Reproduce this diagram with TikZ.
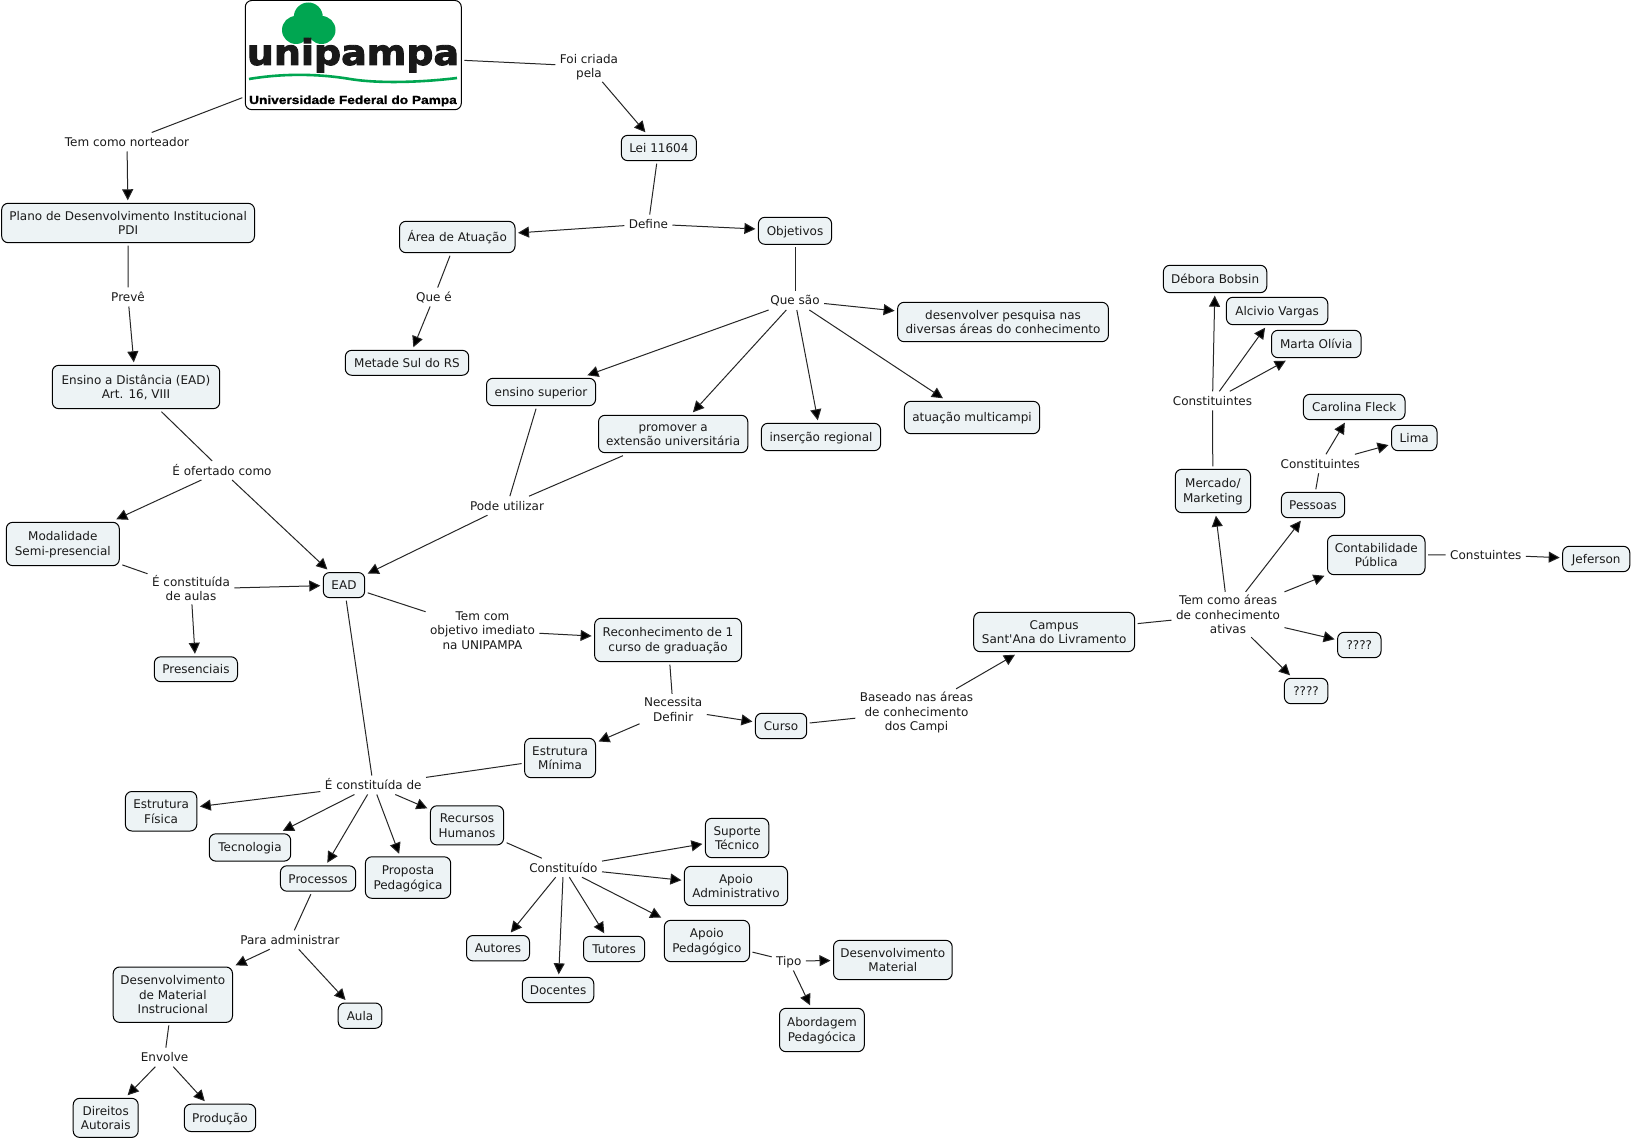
\documentclass[tikz,border=0pt]{standalone}
\usepackage{fontspec}
\setmainfont{DejaVu Sans}
\newfontfamily\plainfont{DejaVu Sans}
\newfontfamily\logofont[FakeBold=2.5]{DejaVu Sans Bold}
\newfontfamily\logosub[FakeBold=1]{Liberation Sans Bold}
\usetikzlibrary{arrows.meta}
\definecolor{cfill}{HTML}{EDF3F5}
\definecolor{cgreen}{HTML}{00A651}
\definecolor{ctext}{HTML}{1A1A1A}
\tikzset{
  concept/.style={draw=black,line width=1pt,fill=cfill,rounded corners=6.5pt,inner sep=0pt,outer sep=3pt,align=center,text=ctext,
    font=\fontsize{12}{14.7}\selectfont},
  linker/.style={inner xsep=3pt,inner ysep=0pt,outer sep=1.5pt,minimum height=16pt,align=center,text=ctext,
    font=\fontsize{12}{14.7}\selectfont},
  link/.style={line width=1pt,draw=black!85},
  arrowlink/.style={link,-{Triangle[length=11pt,width=11pt,fill=black]}},
}
\newcommand{\topstrut}{\rule{0pt}{11pt}}
\newcommand{\botstrut}{\rule[-2pt]{0pt}{2pt}}
\newcommand{\cpt}[6]{\node[concept,minimum width={(#4-#2)*1pt},minimum height={(#5-#3)*1pt}] (#1) at ({(#2+#4)/2},{(#3+#5)/2}) {\topstrut#6\botstrut};}
\newcommand{\lbl}[4]{\node[linker] (#1) at (#2,#3) {\topstrut#4\botstrut};}
\begin{document}
\begin{tikzpicture}[x=1pt,y=-1pt]
\useasboundingbox[fill=white] (0,0) rectangle (1631,1139);
% logo
\node[concept,fill=white,minimum width=216pt,minimum height=109.2pt] (logo) at (353.3,55.1) {};
\fill[cgreen] (308.3,17) circle (14.5) (296,30) circle (14) (321.5,30) circle (14) (308.5,28) circle (10);
\node[anchor=base,inner sep=0pt,xscale=1.15,yscale=1.07,font=\logofont\fontsize{33}{33}\selectfont,text=black!90] (logoname) at (353,65) {unipampa};
\draw[cgreen,line width=2.6pt] (249,79) .. controls (285,73) and (320,74) .. (350,79) .. controls (380,84) and (425,82) .. (457,78);
\node[anchor=base,inner sep=0pt,xscale=1.17,font=\logosub\fontsize{11.7}{12}\selectfont,text=black] (logosubname) at (353,104) {Universidade Federal do Pampa};
% concepts
\cpt{plano}{1.7}{203.3}{254.5}{242.7}{Plano de Desenvolvimento Institucional\\PDI}
\cpt{ensinoead}{52.3}{365.3}{219.7}{408.7}{Ensino a Distância (EAD)\\Art. 16, VIII}
\cpt{modal}{6.3}{522.3}{119.3}{565.7}{Modalidade\\Semi-presencial}
\cpt{ead}{323.3}{572.5}{364.7}{597.7}{EAD}
\cpt{area}{399.5}{221.3}{515}{252.7}{Área de Atuação}
\cpt{metade}{345.3}{350.3}{468.7}{375.3}{Metade Sul do RS}
\cpt{lei}{621.3}{135.3}{696.4}{160.7}{Lei 11604}
\cpt{objet}{758.4}{217.3}{831.6}{244.3}{Objetivos}
\cpt{desenvp}{897.6}{302.3}{1108.4}{341.7}{desenvolver pesquisa nas\\diversas áreas do conhecimento}
\cpt{esup}{486.5}{378.3}{595.6}{405.7}{ensino superior}
\cpt{promov}{598.5}{415.3}{747.8}{452.7}{promover a\\extensão universitária}
\cpt{insercao}{761.4}{423.3}{880.6}{450.7}{inserção regional}
\cpt{atuacao}{904.4}{401.3}{1039.6}{433.7}{atuação multicampi}
\cpt{presenc}{154.3}{656.8}{237.5}{681.7}{Presenciais}
\cpt{fisica}{125.4}{791.5}{196.8}{831}{Estrutura\\Física}
\cpt{tecno}{209.3}{833.8}{290.7}{861.1}{Tecnologia}
\cpt{process}{280.4}{865.8}{355.7}{891.2}{Processos}
\cpt{proposta}{365.4}{856.8}{450.7}{898.3}{Proposta\\Pedagógica}
\cpt{recursos}{430.4}{805.8}{503.6}{844.9}{Recursos\\Humanos}
\cpt{desinstr}{113.2}{967}{232.5}{1022.4}{Desenvolvimento\\de Material\\Instrucional}
\cpt{aula}{338.2}{1003}{381.8}{1028.3}{Aula}
\cpt{direitos}{73.2}{1098.3}{138.2}{1137.4}{Direitos\\Autorais}
\cpt{producao}{184.3}{1104.2}{255.7}{1131.5}{Produção}
\cpt{reconh}{594.6}{618.3}{741.5}{661.7}{Reconhecimento de 1\\curso de graduação}
\cpt{campus}{973.7}{612.3}{1134.6}{651.7}{Campus\\Sant{\plainfont'}Ana do Livramento}
\cpt{curso}{755.4}{713.3}{806.7}{738.7}{Curso}
\cpt{estmin}{524.6}{738.3}{595.5}{777.7}{Estrutura\\Mínima}
\cpt{suporte}{705.4}{818.3}{768.8}{857.7}{Suporte\\Técnico}
\cpt{apadm}{684.4}{866.3}{787.5}{905.7}{Apoio\\Administrativo}
\cpt{apped}{664.3}{920.3}{749.5}{961.7}{Apoio\\Pedagógico}
\cpt{autores}{466.5}{935.5}{529.5}{960.9}{Autores}
\cpt{docentes}{522.3}{977.3}{593.8}{1002.7}{Docentes}
\cpt{tutores}{583.5}{936.3}{644.6}{961.7}{Tutores}
\cpt{desmat}{833.5}{940.3}{952.2}{979.7}{Desenvolvimento\\Material}
\cpt{abord}{779.5}{1008.3}{864.3}{1051.7}{Abordagem\\Pedagócica}
\cpt{debora}{1163.4}{265.3}{1266.8}{292.7}{Débora Bobsin}
\cpt{alcivio}{1226.4}{297.3}{1327.8}{324.7}{Alcivio Vargas}
\cpt{marta}{1271.5}{330.3}{1361}{357.7}{Marta Olívia}
\cpt{carolina}{1303.4}{394.3}{1405}{419.7}{Carolina Fleck}
\cpt{lima}{1391.5}{425.3}{1437}{450.7}{Lima}
\cpt{mercado}{1175.3}{469.3}{1250.5}{512.7}{Mercado/\\Marketing}
\cpt{pessoas}{1281.4}{492.3}{1344.7}{517.7}{Pessoas}
\cpt{contab}{1327.5}{535.3}{1425}{574.7}{Contabilidade\\Pública}
\cpt{jefer}{1562.7}{546.3}{1629.8}{571.7}{Jeferson}
\cpt{qa}{1337.6}{632.3}{1381}{657.7}{????}
\cpt{qb}{1284.4}{678.3}{1327.8}{703.7}{????}
% linking phrases
\lbl{lfoi}{589}{66.3}{Foi criada\\pela}
\lbl{lnort}{127}{142}{Tem como norteador}
\lbl{lpreve}{128}{297}{Prevê}
\lbl{lquee}{434}{297}{Que é}
\lbl{loferta}{222}{470.5}{É ofertado como}
\lbl{lconsaul}{191}{589}{É constituída\\de aulas}
\lbl{ldefine}{648.4}{224}{Define}
\lbl{lquesao}{795}{300.5}{Que são}
\lbl{lpode}{507}{505.7}{Pode utilizar}
\lbl{lcons}{373.2}{785}{É constituída de}
\lbl{lpara}{290}{939.8}{Para administrar}
\lbl{lenv}{164.6}{1057.2}{Envolve}
\lbl{lobj}{482.5}{630.3}{Tem com\\objetivo imediato\\na UNIPAMPA}
\lbl{lnec}{673.2}{709.3}{Necessita\\Definir}
\lbl{lbase}{916.5}{711.8}{Baseado nas áreas\\de conhecimento\\dos Campi}
\lbl{lconst}{563.4}{867.7}{Constituído}
\lbl{ltipo}{788.8}{961}{Tipo}
\lbl{lca}{1212.5}{400.8}{Constituintes}
\lbl{lcb}{1320.3}{463.8}{Constituintes}
\lbl{lcc}{1485.8}{554.8}{Constuintes}
\lbl{lareas}{1228}{614.5}{Tem como áreas\\de conhecimento\\ativas}
% connectors
\foreach \a/\b in {logo/lfoi,logo/lnort,plano/lpreve,ensinoead/loferta,modal/lconsaul,lei/ldefine,area/lquee,objet/lquesao,esup/lpode,promov/lpode,ead/lobj,reconh/lnec,curso/lbase,campus/lareas,mercado/lca,pessoas/lcb,contab/lcc,ead/lcons,estmin/lcons,process/lpara,desinstr/lenv,recursos/lconst,apped/ltipo}
  \draw[link] (\a) -- (\b);
\foreach \a/\b in {lfoi/lei,lnort/plano,lpreve/ensinoead,loferta/modal,loferta/ead,lconsaul/ead,lconsaul/presenc,ldefine/area,ldefine/objet,lquee/metade,lquesao/desenvp,lquesao/esup,lquesao/promov,lquesao/insercao,lquesao/atuacao,lpode/ead,lobj/reconh,lnec/estmin,lnec/curso,lbase/campus,lareas/mercado,lareas/pessoas,lareas/contab,lareas/qa,lareas/qb,lca/debora,lca/alcivio,lca/marta,lcb/carolina,lcb/lima,lcc/jefer,lcons/fisica,lcons/tecno,lcons/process,lcons/proposta,lcons/recursos,lpara/desinstr,lpara/aula,lenv/direitos,lenv/producao,lconst/suporte,lconst/apadm,lconst/apped,lconst/autores,lconst/docentes,lconst/tutores,ltipo/desmat,ltipo/abord}
  \draw[arrowlink] (\a) -- (\b);
\end{tikzpicture}
\end{document}
